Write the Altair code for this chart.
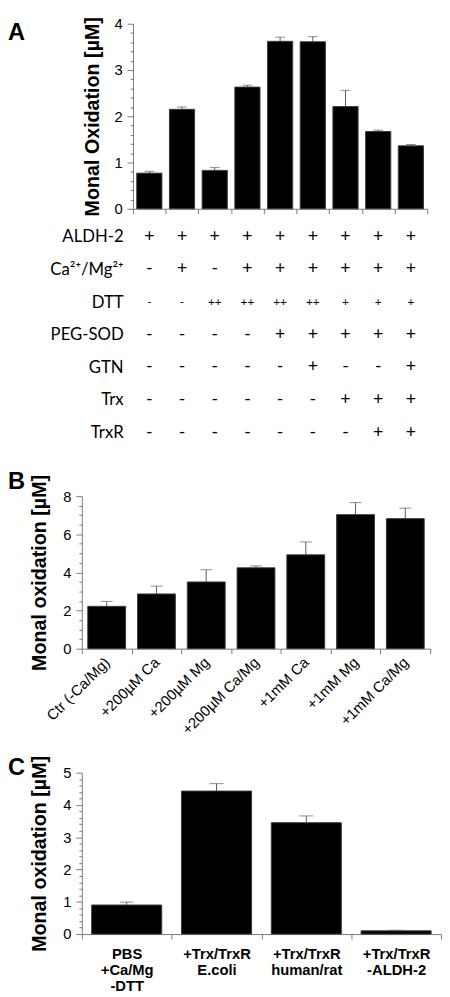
import altair as alt
import pandas as pd

AXIS_GREY = "#7a7a7a"
ERR_GREY = "#5c5c5c"
SANS = "Liberation Sans"
TABLE_FONT = "Lato"

# ---------------- Panel A data ----------------
a_conditions = ["c1", "c2", "c3", "c4", "c5", "c6", "c7", "c8", "c9"]
a_mean = [0.77, 2.15, 0.83, 2.63, 3.62, 3.61, 2.21, 1.67, 1.36]
a_err = [0.04, 0.05, 0.06, 0.04, 0.09, 0.11, 0.35, 0.03, 0.03]
a_ticks = [0, 0.2, 0.4, 0.6, 0.8, 1, 1.2, 1.4, 1.6, 1.8, 2, 2.2, 2.4, 2.6, 2.8,
           3, 3.2, 3.4, 3.6, 3.8, 4]

table_rows = ["ALDH-2", "Ca²⁺/Mg²⁺", "DTT", "PEG-SOD", "GTN", "Trx", "TrxR"]
table_signs = [
    ["+", "+", "+", "+", "+", "+", "+", "+", "+"],
    ["-", "+", "-", "+", "+", "+", "+", "+", "+"],
    ["-", "-", "++", "++", "++", "++", "+", "+", "+"],
    ["-", "-", "-", "-", "+", "+", "+", "+", "+"],
    ["-", "-", "-", "-", "-", "+", "-", "-", "+"],
    ["-", "-", "-", "-", "-", "-", "+", "+", "+"],
    ["-", "-", "-", "-", "-", "-", "-", "+", "+"],
]
table_small_row = "DTT"

# ---------------- Panel B data ----------------
b_labels = ["Ctr (-Ca/Mg)", "+200µM Ca", "+200µM Mg", "+200µM Ca/Mg",
            "+1mM Ca", "+1mM Mg", "+1mM Ca/Mg"]
b_mean = [2.22, 2.87, 3.50, 4.24, 4.92, 7.03, 6.82]
b_err = [0.26, 0.41, 0.64, 0.10, 0.68, 0.63, 0.55]
b_ticks = [0, 0.5, 1, 1.5, 2, 2.5, 3, 3.5, 4, 4.5, 5, 5.5, 6, 6.5, 7, 7.5, 8]

# ---------------- Panel C data ----------------
c_labels = ["PBS|+Ca/Mg|-DTT", "+Trx/TrxR|E.coli", "+Trx/TrxR|human/rat",
            "+Trx/TrxR|-ALDH-2"]
c_mean = [0.90, 4.43, 3.45, 0.10]
c_err = [0.09, 0.23, 0.21, 0.02]
c_ticks = [0, 0.2, 0.4, 0.6, 0.8, 1, 1.2, 1.4, 1.6, 1.8, 2, 2.2, 2.4, 2.6, 2.8,
           3, 3.2, 3.4, 3.6, 3.8, 4, 4.2, 4.4, 4.6, 4.8, 5]

panel_letters = ["A", "B", "C"]


def y_axis(title, ticks, major_test, offset=0, title_pad=14):
    return alt.Axis(
        title=title,
        values=ticks,
        labelExpr=f"({major_test}) ? format(datum.value, 'd') : ''",
        tickSize={"condition": {"test": major_test, "value": 6}, "value": 3},
        labelPadding=5,
        labelFlush=False,
        labelFont=SANS,
        labelFontSize=15,
        labelColor="black",
        titleFont=SANS,
        titleFontSize=20,
        titleFontWeight="bold",
        titleColor="black",
        titlePadding=title_pad,
        domainColor=AXIS_GREY,
        tickColor=AXIS_GREY,
        grid=False,
        offset=offset,
    )


def spacer(top):
    # invisible text that only reserves room above a panel
    return alt.Chart(pd.DataFrame({"t": ["."]})).mark_text(
        opacity=0, baseline="top", fontSize=10).encode(
        x=alt.value(0), y=alt.value(top), text="t:N")


def bar_panel(df, cats, xscale, xaxis, yscale, yaxis, band, cap, width, height,
              letter, letter_y, top_room):
    x = alt.X("cat:N", sort=cats, scale=xscale, axis=xaxis)
    y = alt.Y("mean:Q", scale=yscale, axis=yaxis)
    rule = alt.Chart(df).mark_rule(color=ERR_GREY, strokeWidth=1).encode(
        x=x, y=y, y2="upper:Q")
    bars = alt.Chart(df).mark_bar(
        width=alt.RelativeBandSize(band), color="black",
        stroke="#3a3a3a", strokeWidth=1).encode(x=x, y=y)
    capm = alt.Chart(df).mark_tick(color=ERR_GREY, thickness=1, size=cap).encode(
        x=x, y=alt.Y("upper:Q", scale=yscale, axis=yaxis))
    lab = alt.Chart(pd.DataFrame({"t": [letter]})).mark_text(
        font=SANS, fontSize=24, fontWeight="bold", align="left",
        baseline="top", color="black").encode(
        x=alt.value(-75), y=alt.value(letter_y), text="t:N")
    layers = [rule, bars, capm, lab]
    if top_room:
        layers.append(spacer(-top_room))
    return alt.layer(*layers).properties(width=width, height=height)


# ---------------- Panel A ----------------
dfA = pd.DataFrame({"cat": a_conditions, "mean": a_mean,
                    "upper": [m + e for m, e in zip(a_mean, a_err)]})
a_xscale = alt.Scale(domain=a_conditions, range=[52, 351],
                     paddingInner=0, paddingOuter=0)
a_xaxis = alt.Axis(title=None, labels=False, tickBand="extent", tickSize=5,
                   domainColor=AXIS_GREY, tickColor=AXIS_GREY, grid=False)
panelA = bar_panel(
    dfA, a_conditions, a_xscale, a_xaxis,
    alt.Scale(domain=[0, 4], nice=False),
    y_axis("Monal Oxidation [µM]", a_ticks, "datum.value % 1 === 0",
           offset=-52, title_pad=12),
    0.77, 10, 351, 188, panel_letters[0], -2, 0)

# ---------------- Table under A ----------------
trows = []
for r, signs in zip(table_rows, table_signs):
    for c, s in zip(a_conditions, signs):
        trows.append({"row": r, "cat": c, "sign": s,
                      "fs": 12 if r == table_small_row else 18})
dfT = pd.DataFrame(trows)
table = alt.Chart(dfT).mark_text(font=TABLE_FONT, color="black").encode(
    x=alt.X("cat:N", sort=a_conditions, scale=a_xscale, axis=None),
    y=alt.Y("row:N", sort=table_rows,
            scale=alt.Scale(domain=table_rows, paddingInner=0, paddingOuter=0),
            axis=alt.Axis(title=None, domain=False, ticks=False, labelPadding=0,
                          labelFont=TABLE_FONT, labelFontSize=17,
                          labelColor="black", offset=-42)),
    text="sign:N",
    size=alt.Size("fs:Q", scale=None),
).properties(width=351, height=232)

# ---------------- Panel B ----------------
dfB = pd.DataFrame({"cat": b_labels, "mean": b_mean,
                    "upper": [m + e for m, e in zip(b_mean, b_err)]})
panelB = bar_panel(
    dfB, b_labels,
    alt.Scale(domain=b_labels, paddingInner=0, paddingOuter=0),
    alt.Axis(title=None, tickBand="extent", tickSize=5, labelAngle=-45,
             labelAlign="right", labelBaseline="middle", labelPadding=6,
             labelFont=SANS, labelFontSize=15, labelColor="black",
             domainColor=AXIS_GREY, tickColor=AXIS_GREY, grid=False),
    alt.Scale(domain=[0, 8], nice=False),
    y_axis("Monal oxidation [µM]", b_ticks, "datum.value % 2 === 0",
           title_pad=14),
    0.76, 12, 354, 155, panel_letters[1], -26, 44)

# ---------------- Panel C ----------------
dfC = pd.DataFrame({"cat": c_labels, "mean": c_mean,
                    "upper": [m + e for m, e in zip(c_mean, c_err)]})
panelC = bar_panel(
    dfC, c_labels,
    alt.Scale(domain=c_labels, paddingInner=0, paddingOuter=0),
    alt.Axis(title=None, tickBand="extent", tickSize=5, labelAngle=0,
             labelExpr="split(datum.label, '|')", labelBaseline="top",
             labelPadding=8, labelLineHeight=16,
             labelFont=SANS, labelFontSize=15, labelFontWeight="bold",
             labelColor="black",
             domainColor=AXIS_GREY, tickColor=AXIS_GREY, grid=False),
    alt.Scale(domain=[0, 5], nice=False),
    y_axis("Monal oxidation [µM]", c_ticks, "datum.value % 1 === 0",
           title_pad=14),
    0.78, 14, 365, 164, panel_letters[2], -17, 32)

chart = alt.vconcat(
    panelA, table, panelB, panelC, spacing=4
).properties(
    padding={"left": 0, "top": 0, "right": 0, "bottom": 0}
).configure_view(strokeWidth=0)

chart.save("out.html", embed_options={"renderer": "svg", "actions": False})
